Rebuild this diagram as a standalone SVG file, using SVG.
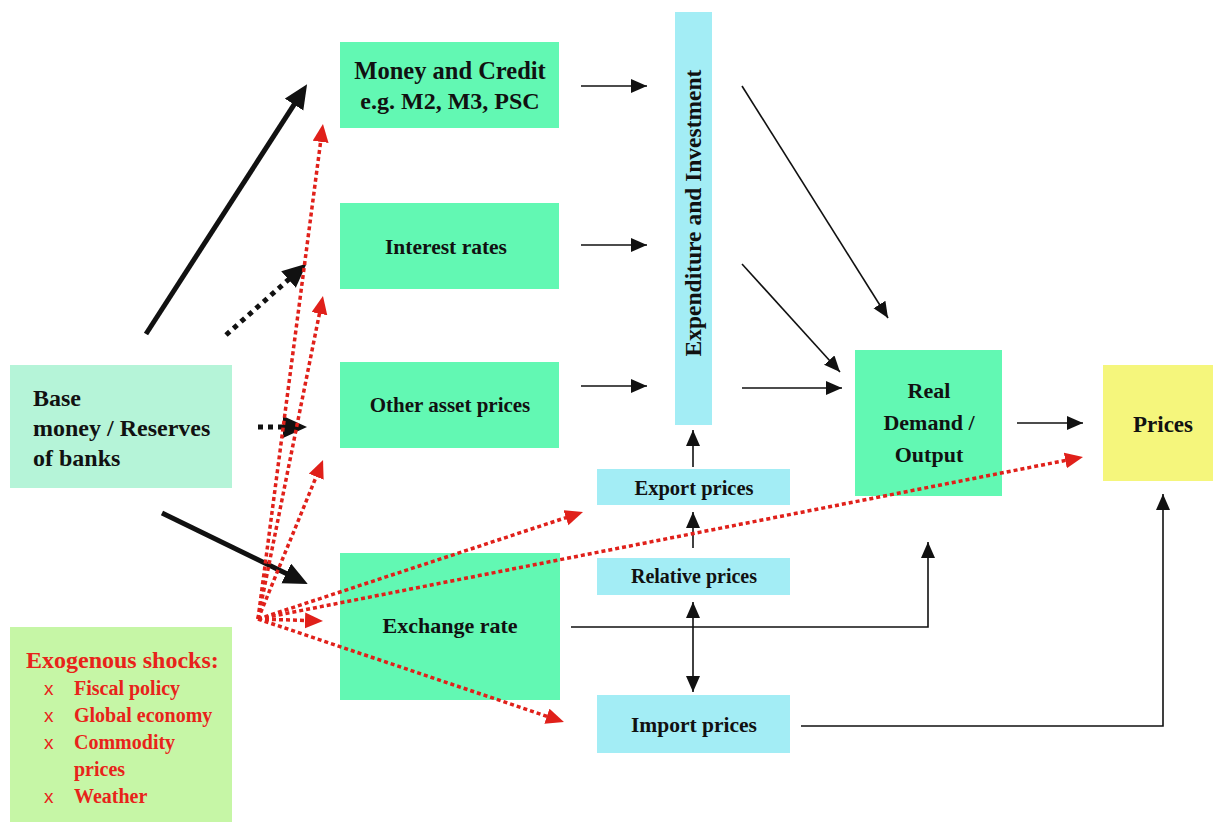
<svg xmlns="http://www.w3.org/2000/svg" width="1213" height="824" viewBox="0 0 1213 824">
<style>
.t{font-family:"Liberation Serif","Times New Roman",serif;font-weight:bold;fill:#111;}
.r{font-family:"Liberation Serif","Times New Roman",serif;font-weight:bold;fill:#e8231a;}
.x{font-family:"Liberation Sans",Arial,sans-serif;fill:#e8231a;}
.mint{fill:#62f8b3;}
.cyan{fill:#a3edf5;}
.thin{stroke:#111;stroke-width:1.6;fill:none;marker-end:url(#ah);}
.thick{stroke:#111;stroke-width:5;fill:none;marker-end:url(#ahB);}
.bdot{stroke:#111;stroke-width:5;stroke-dasharray:5 5;fill:none;marker-end:url(#ahB);}
.rdot{stroke:#e0201a;stroke-width:3.5;stroke-dasharray:4 3;fill:none;marker-end:url(#ahR);}
</style>
<defs>
<marker id="ah" markerUnits="userSpaceOnUse" markerWidth="17" markerHeight="15" refX="16" refY="7" orient="auto"><path d="M0,0 L16,7 L0,14 z" fill="#111"/></marker>
<marker id="ahB" markerUnits="userSpaceOnUse" markerWidth="25" markerHeight="23" refX="8" refY="11" orient="auto"><path d="M0,0 L24,11 L0,22 z" fill="#111"/></marker>
<marker id="ahR" markerUnits="userSpaceOnUse" markerWidth="19" markerHeight="17" refX="6" refY="8" orient="auto"><path d="M0,0 L18,8 L0,16 z" fill="#e0201a"/></marker>
<marker id="ahS" markerUnits="userSpaceOnUse" markerWidth="17" markerHeight="15" refX="16" refY="7" orient="auto-start-reverse"><path d="M0,0 L16,7 L0,14 z" fill="#111"/></marker>
</defs>
<rect width="1213" height="824" fill="#ffffff"/>

<g id="base">
<rect x="10" y="365" width="222" height="123" fill="#b5f4d8"/>
<text class="t" font-size="24" x="33" y="406">Base</text>
<text class="t" font-size="24" x="33" y="436">money / Reserves</text>
<text class="t" font-size="24" x="33" y="466">of banks</text>
</g>

<g id="shocks">
<rect x="10" y="627" width="222" height="195" fill="#c6f6a6"/>
<text class="r" font-size="24" x="26" y="668">Exogenous shocks:</text>
<text class="x" font-size="19" x="44" y="695">x</text>
<text class="r" font-size="20" x="74" y="695">Fiscal policy</text>
<text class="x" font-size="19" x="44" y="722">x</text>
<text class="r" font-size="20" x="74" y="722">Global economy</text>
<text class="x" font-size="19" x="44" y="749">x</text>
<text class="r" font-size="20" x="74" y="749">Commodity</text>
<text class="r" font-size="20" x="74" y="776">prices</text>
<text class="x" font-size="19" x="44" y="803">x</text>
<text class="r" font-size="20" x="74" y="803">Weather</text>
</g>

<g id="money">
<rect class="mint" x="340" y="42" width="219" height="86"/>
<text class="t" font-size="24.5" x="450" y="79" text-anchor="middle">Money and Credit</text>
<text class="t" font-size="24" x="450" y="109" text-anchor="middle">e.g. M2, M3, PSC</text>
</g>

<g id="interest">
<rect class="mint" x="340" y="203" width="219" height="86"/>
<text class="t" font-size="21.5" x="446" y="254" text-anchor="middle">Interest rates</text>
</g>

<g id="otherassets">
<rect class="mint" x="340" y="362" width="219" height="86"/>
<text class="t" font-size="21" x="450" y="412" text-anchor="middle">Other asset prices</text>
</g>

<g id="exchange">
<rect class="mint" x="340" y="553" width="220" height="147"/>
<text class="t" font-size="22" x="450" y="633" text-anchor="middle">Exchange rate</text>
</g>

<g id="expenditure">
<rect class="cyan" x="675" y="12" width="37" height="413"/>
<text class="t" font-size="23.5" transform="translate(701,213) rotate(-90)" text-anchor="middle">Expenditure and Investment</text>
</g>

<g id="export">
<rect class="cyan" x="597" y="469" width="193" height="36"/>
<text class="t" font-size="20.5" x="694" y="495" text-anchor="middle">Export prices</text>
</g>

<g id="relative">
<rect class="cyan" x="597" y="558" width="193" height="37"/>
<text class="t" font-size="20" x="694" y="583" text-anchor="middle">Relative prices</text>
</g>

<g id="import">
<rect class="cyan" x="597" y="695" width="193" height="58"/>
<text class="t" font-size="21.5" x="694" y="732" text-anchor="middle">Import prices</text>
</g>

<g id="realdemand">
<rect class="mint" x="855" y="350" width="147" height="146"/>
<text class="t" font-size="22" x="929" y="398" text-anchor="middle">Real</text>
<text class="t" font-size="22" x="929" y="430" text-anchor="middle">Demand /</text>
<text class="t" font-size="22" x="929" y="462" text-anchor="middle">Output</text>
</g>

<g id="prices">
<rect x="1103" y="365" width="110" height="116" fill="#f5f67c"/>
<text class="t" font-size="23" x="1163" y="432" text-anchor="middle">Prices</text>
</g>

<g id="connectors">
<line class="thin" x1="581" y1="86" x2="647" y2="86"/>
<line class="thin" x1="581" y1="245" x2="647" y2="245"/>
<line class="thin" x1="581" y1="386" x2="647" y2="386"/>
<line class="thin" x1="742" y1="86" x2="888" y2="318"/>
<line class="thin" x1="742" y1="264" x2="840" y2="372"/>
<line class="thin" x1="742" y1="388" x2="842" y2="388"/>
<line class="thin" x1="1017" y1="423" x2="1083" y2="423"/>
<line class="thin" x1="693" y1="467" x2="693" y2="430"/>
<line class="thin" x1="693" y1="548" x2="693" y2="512"/>
<line x1="693" y1="602" x2="693" y2="692" stroke="#111" stroke-width="1.6" marker-start="url(#ahS)" marker-end="url(#ahS)"/>
<polyline class="thin" points="571,627 928,627 928,542"/>
<polyline class="thin" points="801,726 1163,726 1163,494"/>

<line class="thick" x1="146" y1="334" x2="298.4" y2="97.8"/>
<line class="thick" x1="162" y1="513" x2="293.4" y2="576.9"/>
<line class="bdot" x1="226" y1="335" x2="294.5" y2="274.3"/>
<line class="bdot" stroke-width="4" x1="258" y1="427" x2="291" y2="427"/>

<line class="rdot" x1="258" y1="619" x2="321.4" y2="135.9"/>
<line class="rdot" x1="258" y1="619" x2="320.6" y2="307.8"/>
<line class="rdot" x1="258" y1="619" x2="318.5" y2="471.1"/>
<line class="rdot" x1="258" y1="619" x2="311" y2="620.6"/>
<line class="rdot" x1="258" y1="619" x2="571.6" y2="515.8"/>
<line class="rdot" x1="258" y1="619" x2="1071.2" y2="459.3"/>
<line class="rdot" x1="258" y1="619" x2="552.6" y2="718.2"/>
</g>
</svg>
